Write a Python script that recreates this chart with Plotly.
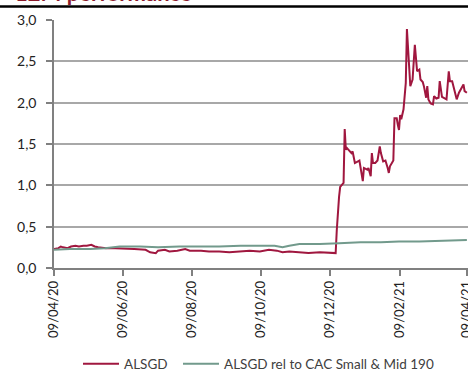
import plotly.graph_objects as go

# ALSGD share price (rebased) - dates and values
alsgd_dates = [
    "2020-04-09", "2020-04-13", "2020-04-15", "2020-04-17", "2020-04-21", "2020-04-24",
    "2020-04-28", "2020-05-01", "2020-05-05", "2020-05-08", "2020-05-12", "2020-05-15",
    "2020-05-18", "2020-05-25", "2020-06-02", "2020-06-11", "2020-06-19", "2020-06-29",
    "2020-07-03", "2020-07-08", "2020-07-10", "2020-07-16", "2020-07-20", "2020-07-27",
    "2020-08-03", "2020-08-07", "2020-08-17", "2020-08-24", "2020-09-02", "2020-09-11",
    "2020-09-21", "2020-09-29", "2020-10-08", "2020-10-16", "2020-10-23", "2020-10-28",
    "2020-11-03", "2020-11-12", "2020-11-20", "2020-11-30", "2020-12-08", "2020-12-14",
    "2020-12-15", "2020-12-16", "2020-12-17", "2020-12-18", "2020-12-21", "2020-12-22",
    "2020-12-23", "2020-12-24", "2020-12-28", "2020-12-29", "2020-12-30", "2020-12-31",
    "2021-01-04", "2021-01-05", "2021-01-07", "2021-01-08", "2021-01-11", "2021-01-12",
    "2021-01-14", "2021-01-15", "2021-01-16", "2021-01-18", "2021-01-20", "2021-01-22",
    "2021-01-23", "2021-01-25", "2021-01-27", "2021-01-29", "2021-01-30", "2021-01-31",
    "2021-02-03", "2021-02-04", "2021-02-06", "2021-02-07", "2021-02-08", "2021-02-09",
    "2021-02-10", "2021-02-12", "2021-02-14", "2021-02-15", "2021-02-18", "2021-02-20",
    "2021-02-22", "2021-02-24", "2021-02-26", "2021-02-27", "2021-03-01", "2021-03-02",
    "2021-03-04", "2021-03-05", "2021-03-06", "2021-03-08", "2021-03-10", "2021-03-11",
    "2021-03-13", "2021-03-15", "2021-03-16", "2021-03-18", "2021-03-20", "2021-03-22",
    "2021-03-24", "2021-03-25", "2021-03-27", "2021-03-29", "2021-03-31", "2021-04-02",
    "2021-04-04", "2021-04-06", "2021-04-07", "2021-04-09",
]
alsgd_values = [
    0.23, 0.24, 0.26, 0.25, 0.24, 0.26,
    0.27, 0.26, 0.27, 0.27, 0.28, 0.26,
    0.25, 0.24, 0.24, 0.23, 0.23, 0.22,
    0.19, 0.18, 0.21, 0.22, 0.20, 0.21,
    0.23, 0.21, 0.21, 0.20, 0.20, 0.19,
    0.20, 0.21, 0.20, 0.22, 0.21, 0.19,
    0.20, 0.19, 0.18, 0.19, 0.18, 0.18,
    0.46, 0.70, 0.86, 0.98, 1.03, 1.68,
    1.43, 1.45, 1.39, 1.41, 1.33, 1.27,
    1.30, 1.23, 1.05, 1.21, 1.19, 1.21,
    1.11, 1.39, 1.27, 1.27, 1.30, 1.47,
    1.39, 1.29, 1.30, 1.21, 1.15, 1.23,
    1.30, 1.81, 1.81, 1.73, 1.67, 1.85,
    1.80, 1.92, 2.24, 2.89, 2.20, 2.28,
    2.70, 2.38, 2.40, 2.28, 2.25, 2.20,
    2.06, 2.20, 2.04, 1.99, 1.98, 2.08,
    2.05, 2.06, 2.26, 2.07, 2.05, 2.04,
    2.38, 2.26, 2.26, 2.14, 2.04, 2.12,
    2.18, 2.22, 2.14, 2.12,
]

# ALSGD relative to CAC Small & Mid 190
rel_dates = [
    "2020-04-09", "2020-04-23", "2020-05-11", "2020-05-24", "2020-06-06", "2020-06-24",
    "2020-07-10", "2020-07-29", "2020-08-17", "2020-09-02", "2020-09-21", "2020-10-08",
    "2020-10-21", "2020-10-28", "2020-11-03", "2020-11-12", "2020-11-30", "2020-12-17",
    "2021-01-05", "2021-01-23", "2021-02-08", "2021-02-26", "2021-03-16", "2021-03-29",
    "2021-04-09",
]
rel_values = [
    0.22, 0.23, 0.23, 0.24, 0.26, 0.26,
    0.25, 0.26, 0.26, 0.26, 0.27, 0.27,
    0.27, 0.25, 0.27, 0.29, 0.29, 0.30,
    0.31, 0.31, 0.32, 0.32, 0.33, 0.33,
    0.34,
]

tick_dates = ["2020-04-09", "2020-06-09", "2020-08-09", "2020-10-09",
              "2020-12-09", "2021-02-09", "2021-04-09"]
tick_labels = ["09/04/20", "09/06/20", "09/08/20", "09/10/20",
               "09/12/20", "09/02/21", "09/04/21"]

RED = "#a0173f"
GREEN = "#729a8c"
FONT = "Lato, Open Sans, sans-serif"

fig = go.Figure()
fig.add_trace(go.Scatter(x=alsgd_dates, y=alsgd_values, mode="lines", name="ALSGD",
                         legend="legend",
                         line=dict(color=RED, width=2)))
fig.add_trace(go.Scatter(x=rel_dates, y=rel_values, mode="lines",
                         name="ALSGD rel to CAC Small & Mid 190", legend="legend2",
                         line=dict(color=GREEN, width=2)))

legend_common = dict(orientation="h", xref="container", yref="container",
                     xanchor="left", y=0.016, yanchor="middle",
                     font=dict(size=13.5, color="#404040"),
                     bgcolor="rgba(0,0,0,0)", itemwidth=36)

fig.update_layout(
    width=468, height=370,
    margin=dict(l=54, r=0, t=20, b=102),
    paper_bgcolor="white", plot_bgcolor="white",
    separators=",.",
    font=dict(family=FONT, size=13, color="#333333"),
    showlegend=True,
    legend=dict(x=78 / 468, **legend_common),
    legend2=dict(x=178 / 468, **legend_common),
    xaxis=dict(range=["2020-04-09", "2021-04-10"], tickmode="array",
               tickvals=tick_dates, ticktext=tick_labels, tickangle=-90,
               ticklabeloverflow="allow", automargin=False,
               showgrid=False, showline=True, linecolor="#808080", linewidth=1.5,
               ticks="outside", ticklen=6, tickcolor="#808080", tickwidth=1.5,
               tickfont=dict(size=13, color="#222222"), zeroline=False),
    yaxis=dict(range=[0, 3.0], tickmode="array", tickvals=[0, 0.5, 1, 1.5, 2, 2.5, 3],
               tickformat=".1f", showgrid=True, gridcolor="#a8a8a8", gridwidth=1.5,
               showline=True, linecolor="#808080", linewidth=1.5,
               ticks="outside", ticklen=6, tickcolor="#808080", tickwidth=1.5,
               ticklabelstandoff=7, automargin=False,
               tickfont=dict(size=14, color="#222222"), zeroline=False),
)

fig.add_annotation(text="<b>12M performance</b>", xref="paper", yref="paper",
                   x=-0.1, xanchor="left", y=1.05, yanchor="bottom", showarrow=False,
                   font=dict(size=22, color="#8b1a2b", family=FONT))
fig.add_shape(type="line", xref="paper", yref="paper", x0=-0.14, x1=1.0,
              y0=1.054, y1=1.054, line=dict(color="black", width=2.5))

fig.write_html("out.html")
